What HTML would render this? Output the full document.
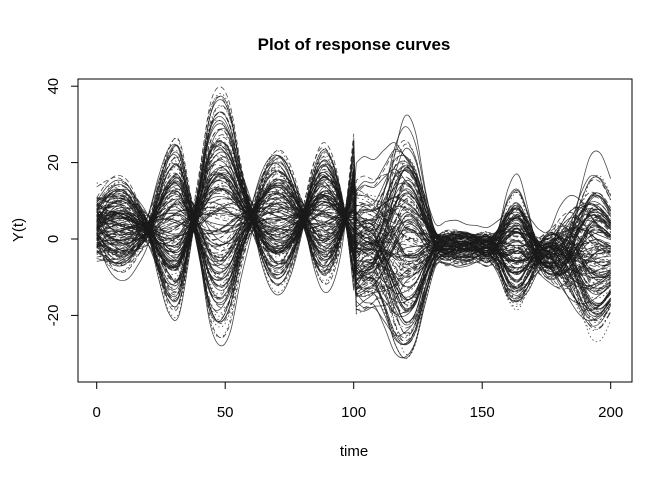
<!DOCTYPE html>
<html><head><meta charset="utf-8"><style>
body{margin:0;background:#fff;}
svg{display:block;font-family:"Liberation Sans",sans-serif;}
</style></head><body>
<svg id="chart" width="672" height="480" viewBox="0 0 672 480" xmlns="http://www.w3.org/2000/svg">
<text x="354" y="50" font-size="17" font-weight="bold" text-anchor="middle">Plot of response curves</text>
<text x="354" y="456" font-size="15" text-anchor="middle">time</text>
<text x="23" y="230" font-size="15" text-anchor="middle" transform="rotate(-90 23 230)">Y(t)</text>
<g id="curves"></g>
<rect x="78" y="79" width="554" height="303" fill="none" stroke="#000" stroke-width="1"/>
<g id="axes"></g>
</svg>
<script>
const xTicks=[0,50,100,150,200];
const yTicks=[-20,0,20,40];
const t1=[0,4,8,12,16,20,24,28,32,36,40,44,48,52,56,60,64,68,72,76,80,84,88,92,96,100];
const mean1=[3,3,3,3,2.8,2.6,3,3.5,4,4.5,4.7,5,5.2,5.5,5.8,5.8,5.6,5.4,5.3,5.2,5.2,5.3,5.5,5.5,5.5,5.5];
const shapeA1=[0.2,0.35,0.42,0.38,0.22,0,-0.4,-0.72,-0.75,-0.25,0.35,0.95,1.12,0.95,0.45,0.05,-0.35,-0.58,-0.6,-0.4,-0.05,0.4,0.62,0.5,0.1,-0.4];
const shapeB1=[0.25,0.08,0,-0.06,-0.1,-0.12,-0.1,-0.04,0.04,0.12,0.14,0.08,0,-0.08,-0.12,-0.12,-0.08,-0.02,0.04,0.1,0.12,0.08,0,-0.08,-0.04,0.6];
const t2=[101,104,108,112,116,120,124,128,132,136,140,144,148,152,156,160,164,168,172,176,180,184,188,192,196,200];
const mean2=[-3,-3,-3,-3,-3,-3,-3,-2.5,-2,-2,-2,-2,-2,-2.2,-2.5,-3,-3,-3.5,-4,-4,-4.2,-4.5,-4.5,-4.8,-5,-5];
const shapeA2=[0.2,0.3,0.35,0.6,0.9,1.0,0.85,0.45,0.1,0.05,0.1,0.1,0.05,0,0.15,0.4,0.45,0.3,0.05,-0.05,0.1,0.3,0.5,0.6,0.55,0.4];
const shapeB2=[0.65,0.6,0.5,0.3,0,-0.3,-0.3,-0.1,0,0.1,0.05,0,0.05,0.1,0,-0.2,-0.3,-0.1,0.1,0.2,0.3,0.2,-0.1,-0.4,-0.5,-0.4];
const coefA1=[22,-18,9,-5,14,-25,3,17,-12,7,-9,26,-3,11,-15,5,-20,19,-7,1,12,-10,30,-22,6,-2,15,-13,8,-28,4,-6,20,-16,10,-1,13,-24,2,18,-11,24,-8,16,-4,7,-19,11,-14,27];
const coefB1=[5,-8,12,-3,0,9,-15,4,7,-11,18,-6,2,-20,10,-4,14,-1,-9,6,22,-13,3,-7,11,-17,8,1,-5,15,-10,25,-2,6,-12,9,-18,4,13,-3,-22,7,0,-9,16,-6,3,19,-14,2];
const coefA2=[18,-12,6,-22,10,-4,25,-15,3,-8,14,-19,7,0,-27,11,-6,20,-2,9,-14,4,23,-10,1,-17,13,-5,30,-9,5,-21,16,-3,8,-13,19,-7,12,-25,2,15,-11,6,-1,21,-16,10,-4,28];
const coefB2=[-6,10,-14,3,8,-18,5,12,-2,16,-9,1,20,-11,4,-7,13,-16,9,0,-4,17,-12,6,-20,11,-3,15,-8,2,22,-5,-13,7,-10,14,-1,18,-6,3,-15,9,12,-19,5,-2,16,-9,1,-24];
const offsets=[1,-2,3,-4,0,2,-1,4,-3,1,-5,2,0,3,-2,-1,5,-3,2,0,-4,1,3,-2,4,-1,0,2,-3,1,-2,3,-5,0,2,-1,4,-4,1,-2,3,0,-3,2,5,-1,1,-2,0,3];
const combos=[0,17,31];

const xs=t=>96.7+t*2.57;
const ys=v=>239-v*3.82;
const NS='http://www.w3.org/2000/svg';
const dashes=['','5,3','1.5,2.5','','6,3,1.5,3','5,3',''];

function spline(pts){
  let d='';
  for(let i=0;i<pts.length-1;i++){
    const p0=pts[Math.max(i-1,0)],p1=pts[i],p2=pts[i+1],p3=pts[Math.min(i+2,pts.length-1)];
    const c1x=p1[0]+(p2[0]-p0[0])/6,c1y=p1[1]+(p2[1]-p0[1])/6;
    const c2x=p2[0]-(p3[0]-p1[0])/6,c2y=p2[1]-(p3[1]-p1[1])/6;
    d+=` C${c1x.toFixed(1)},${c1y.toFixed(1)} ${c2x.toFixed(1)},${c2y.toFixed(1)} ${p2[0].toFixed(1)},${p2[1].toFixed(1)}`;
  }
  return d;
}
const g=document.getElementById('curves');
const n=coefA1.length;
combos.forEach((m,ci)=>{
for(let k=0;k<n;k++){
  const a1=coefA1[k], b1=coefB1[(k+m)%n], a2=coefA2[(k+m)%n], b2=coefB2[(k+2*m)%n], o=offsets[(k+m)%n], o2=offsets[(k+3*m+5)%n];
  const p1=t1.map((t,i)=>[xs(t),ys(mean1[i]+o*0.35+a1*shapeA1[i]+b1*shapeB1[i])]);
  const p2=t2.map((t,i)=>[xs(t),ys(mean2[i]+o2*0.6+a2*shapeA2[i]+b2*shapeB2[i])]);
  let d=`M${p1[0][0].toFixed(1)},${p1[0][1].toFixed(1)}`+spline(p1)+` L${p2[0][0].toFixed(1)},${p2[0][1].toFixed(1)}`+spline(p2);
  const path=document.createElementNS(NS,'path');
  path.setAttribute('d',d);
  path.setAttribute('fill','none');
  path.setAttribute('stroke','#1a1a1a');
  path.setAttribute('stroke-opacity','0.8');
  path.setAttribute('stroke-width','0.8');
  const da=dashes[(k+ci)%dashes.length];
  if(da)path.setAttribute('stroke-dasharray',da);
  
  
  g.appendChild(path);
}
});
const ax=document.getElementById('axes');
xTicks.forEach(v=>{
  const l=document.createElementNS(NS,'line');
  l.setAttribute('x1',xs(v));l.setAttribute('x2',xs(v));l.setAttribute('y1',382);l.setAttribute('y2',389);
  l.setAttribute('stroke','#000');
  
  
  ax.appendChild(l);
  const tx=document.createElementNS(NS,'text');
  tx.setAttribute('x',xs(v));tx.setAttribute('y',417);tx.setAttribute('font-size','15');tx.setAttribute('text-anchor','middle');
  tx.textContent=v;
  
  
  ax.appendChild(tx);
});
const xl=document.createElementNS(NS,'line');
xl.setAttribute('x1',xs(0));xl.setAttribute('x2',xs(200));xl.setAttribute('y1',382);xl.setAttribute('y2',382);xl.setAttribute('stroke','#000');


ax.appendChild(xl);
yTicks.forEach(v=>{
  const l=document.createElementNS(NS,'line');
  l.setAttribute('x1',71);l.setAttribute('x2',78);l.setAttribute('y1',ys(v));l.setAttribute('y2',ys(v));
  l.setAttribute('stroke','#000');
  
  
  ax.appendChild(l);
  const tx=document.createElementNS(NS,'text');
  tx.setAttribute('x',58);tx.setAttribute('y',ys(v));tx.setAttribute('font-size','15');tx.setAttribute('text-anchor','middle');
  tx.setAttribute('transform',`rotate(-90 58 ${ys(v)})`);
  tx.textContent=v;
  
  
  ax.appendChild(tx);
});
</script>
</body></html>
